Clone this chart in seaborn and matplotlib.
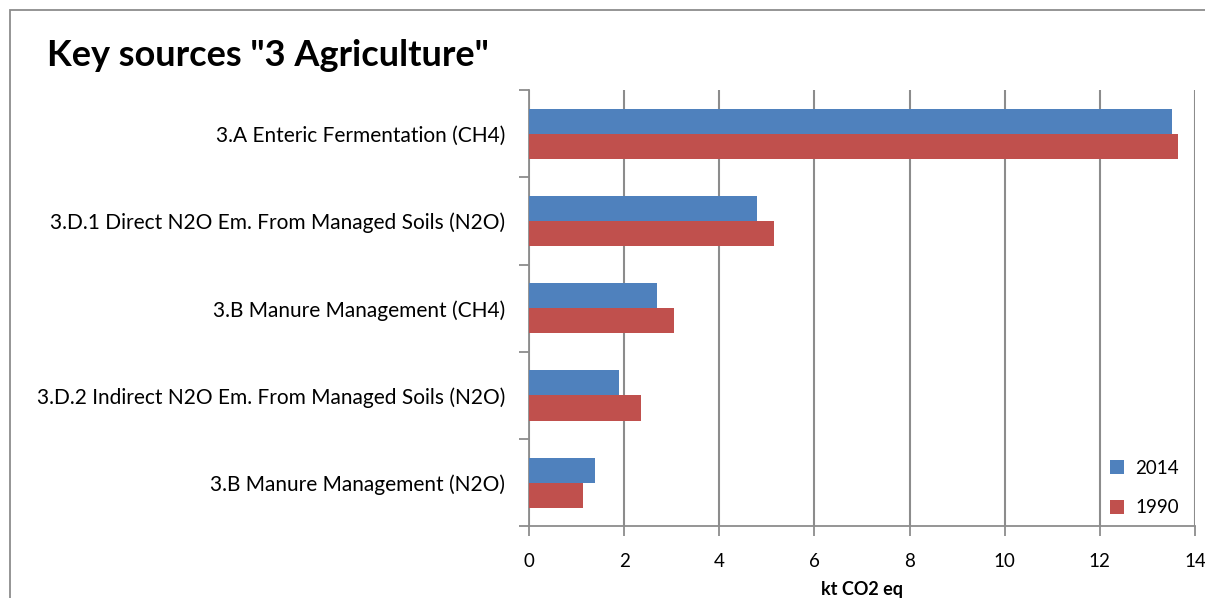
import pandas as pd
import matplotlib.pyplot as plt
import matplotlib.patches as mpatches
import seaborn as sns

# Key source categories (top to bottom) and emissions in kt CO2 eq
categories = [
    "3.A Enteric Fermentation (CH4)",
    "3.D.1 Direct N2O Em. From Managed Soils (N2O)",
    "3.B Manure Management (CH4)",
    "3.D.2 Indirect N2O Em. From Managed Soils (N2O)",
    "3.B Manure Management (N2O)",
]
values_2014 = [13.51, 4.79, 2.70, 1.89, 1.39]
values_1990 = [13.65, 5.16, 3.04, 2.36, 1.14]
years = ["2014", "1990"]
x_ticks = [0, 2, 4, 6, 8, 10, 12, 14]

colors = {"2014": "#4F81BD", "1990": "#C0504D"}
grid_grey = "#8C8C8C"

# Long form table for seaborn
rows = []
for cat, v14, v90 in zip(categories, values_2014, values_1990):
    rows.append({"source": cat, "year": "2014", "value": v14})
    rows.append({"source": cat, "year": "1990", "value": v90})
df = pd.DataFrame(rows)

sns.set_theme(style="white")
plt.rcParams["font.family"] = ["Lato", "DejaVu Sans"]
plt.rcParams["text.color"] = "black"
plt.rcParams["xtick.color"] = "black"
plt.rcParams["ytick.color"] = "black"

fig = plt.figure(figsize=(12.05, 5.98), dpi=100)
ax = fig.add_axes([0.439, 0.12, 0.5527, 0.729])

sns.barplot(data=df, x="value", y="source", hue="year", hue_order=years,
            order=categories, palette=colors, orient="h", width=0.575,
            gap=0, saturation=1, edgecolor="none", legend=True, ax=ax, zorder=3)

ax.set_xlim(0, 14)
ax.set_ylim(4.5, -0.5)
ax.set_xticks(x_ticks)
ax.set_xticklabels([str(t) for t in x_ticks], fontsize=13.5)
ax.xaxis.grid(True, color=grid_grey, linewidth=1.5, zorder=0)
ax.yaxis.grid(False)

# tick marks between categories, none at the labels
ax.set_yticks([i - 0.5 for i in range(len(categories) + 1)], minor=True)
ax.tick_params(axis="y", which="major", length=0, pad=17, labelsize=15,
               labelcolor="black")
ax.tick_params(axis="y", which="minor", length=7, width=1.3, color=grid_grey,
               left=True)
ax.tick_params(axis="x", which="major", length=7, width=1.3, color=grid_grey,
               bottom=True, pad=12, labelcolor="black")

for side in ["top", "right"]:
    ax.spines[side].set_visible(False)
for side in ["left", "bottom"]:
    ax.spines[side].set_color(grid_grey)
    ax.spines[side].set_linewidth(1.3)

ax.set_ylabel("")
ax.set_xlabel("kt CO2 eq", fontsize=13, fontweight="bold", labelpad=8,
              color="black")

handles, labels = ax.get_legend_handles_labels()
ax.legend(handles, labels, loc="center left", bbox_to_anchor=(0.907, 0.184),
          bbox_transform=fig.transFigure, frameon=False, fontsize=13.5,
          handlelength=0.75, handleheight=0.75, handletextpad=0.6,
          labelspacing=1.2, labelcolor="black")

fig.text(0.039, 0.908, 'Key sources "3 Agriculture"', fontsize=26,
         fontweight="bold", va="center", ha="left", color="black")

# outer chart border
fig.patches.append(mpatches.Rectangle((0.0085, -0.1), 1.2, 1.083,
                                      transform=fig.transFigure, fill=False,
                                      edgecolor=grid_grey, linewidth=1.3))

fig.savefig("out.png", dpi=100)
